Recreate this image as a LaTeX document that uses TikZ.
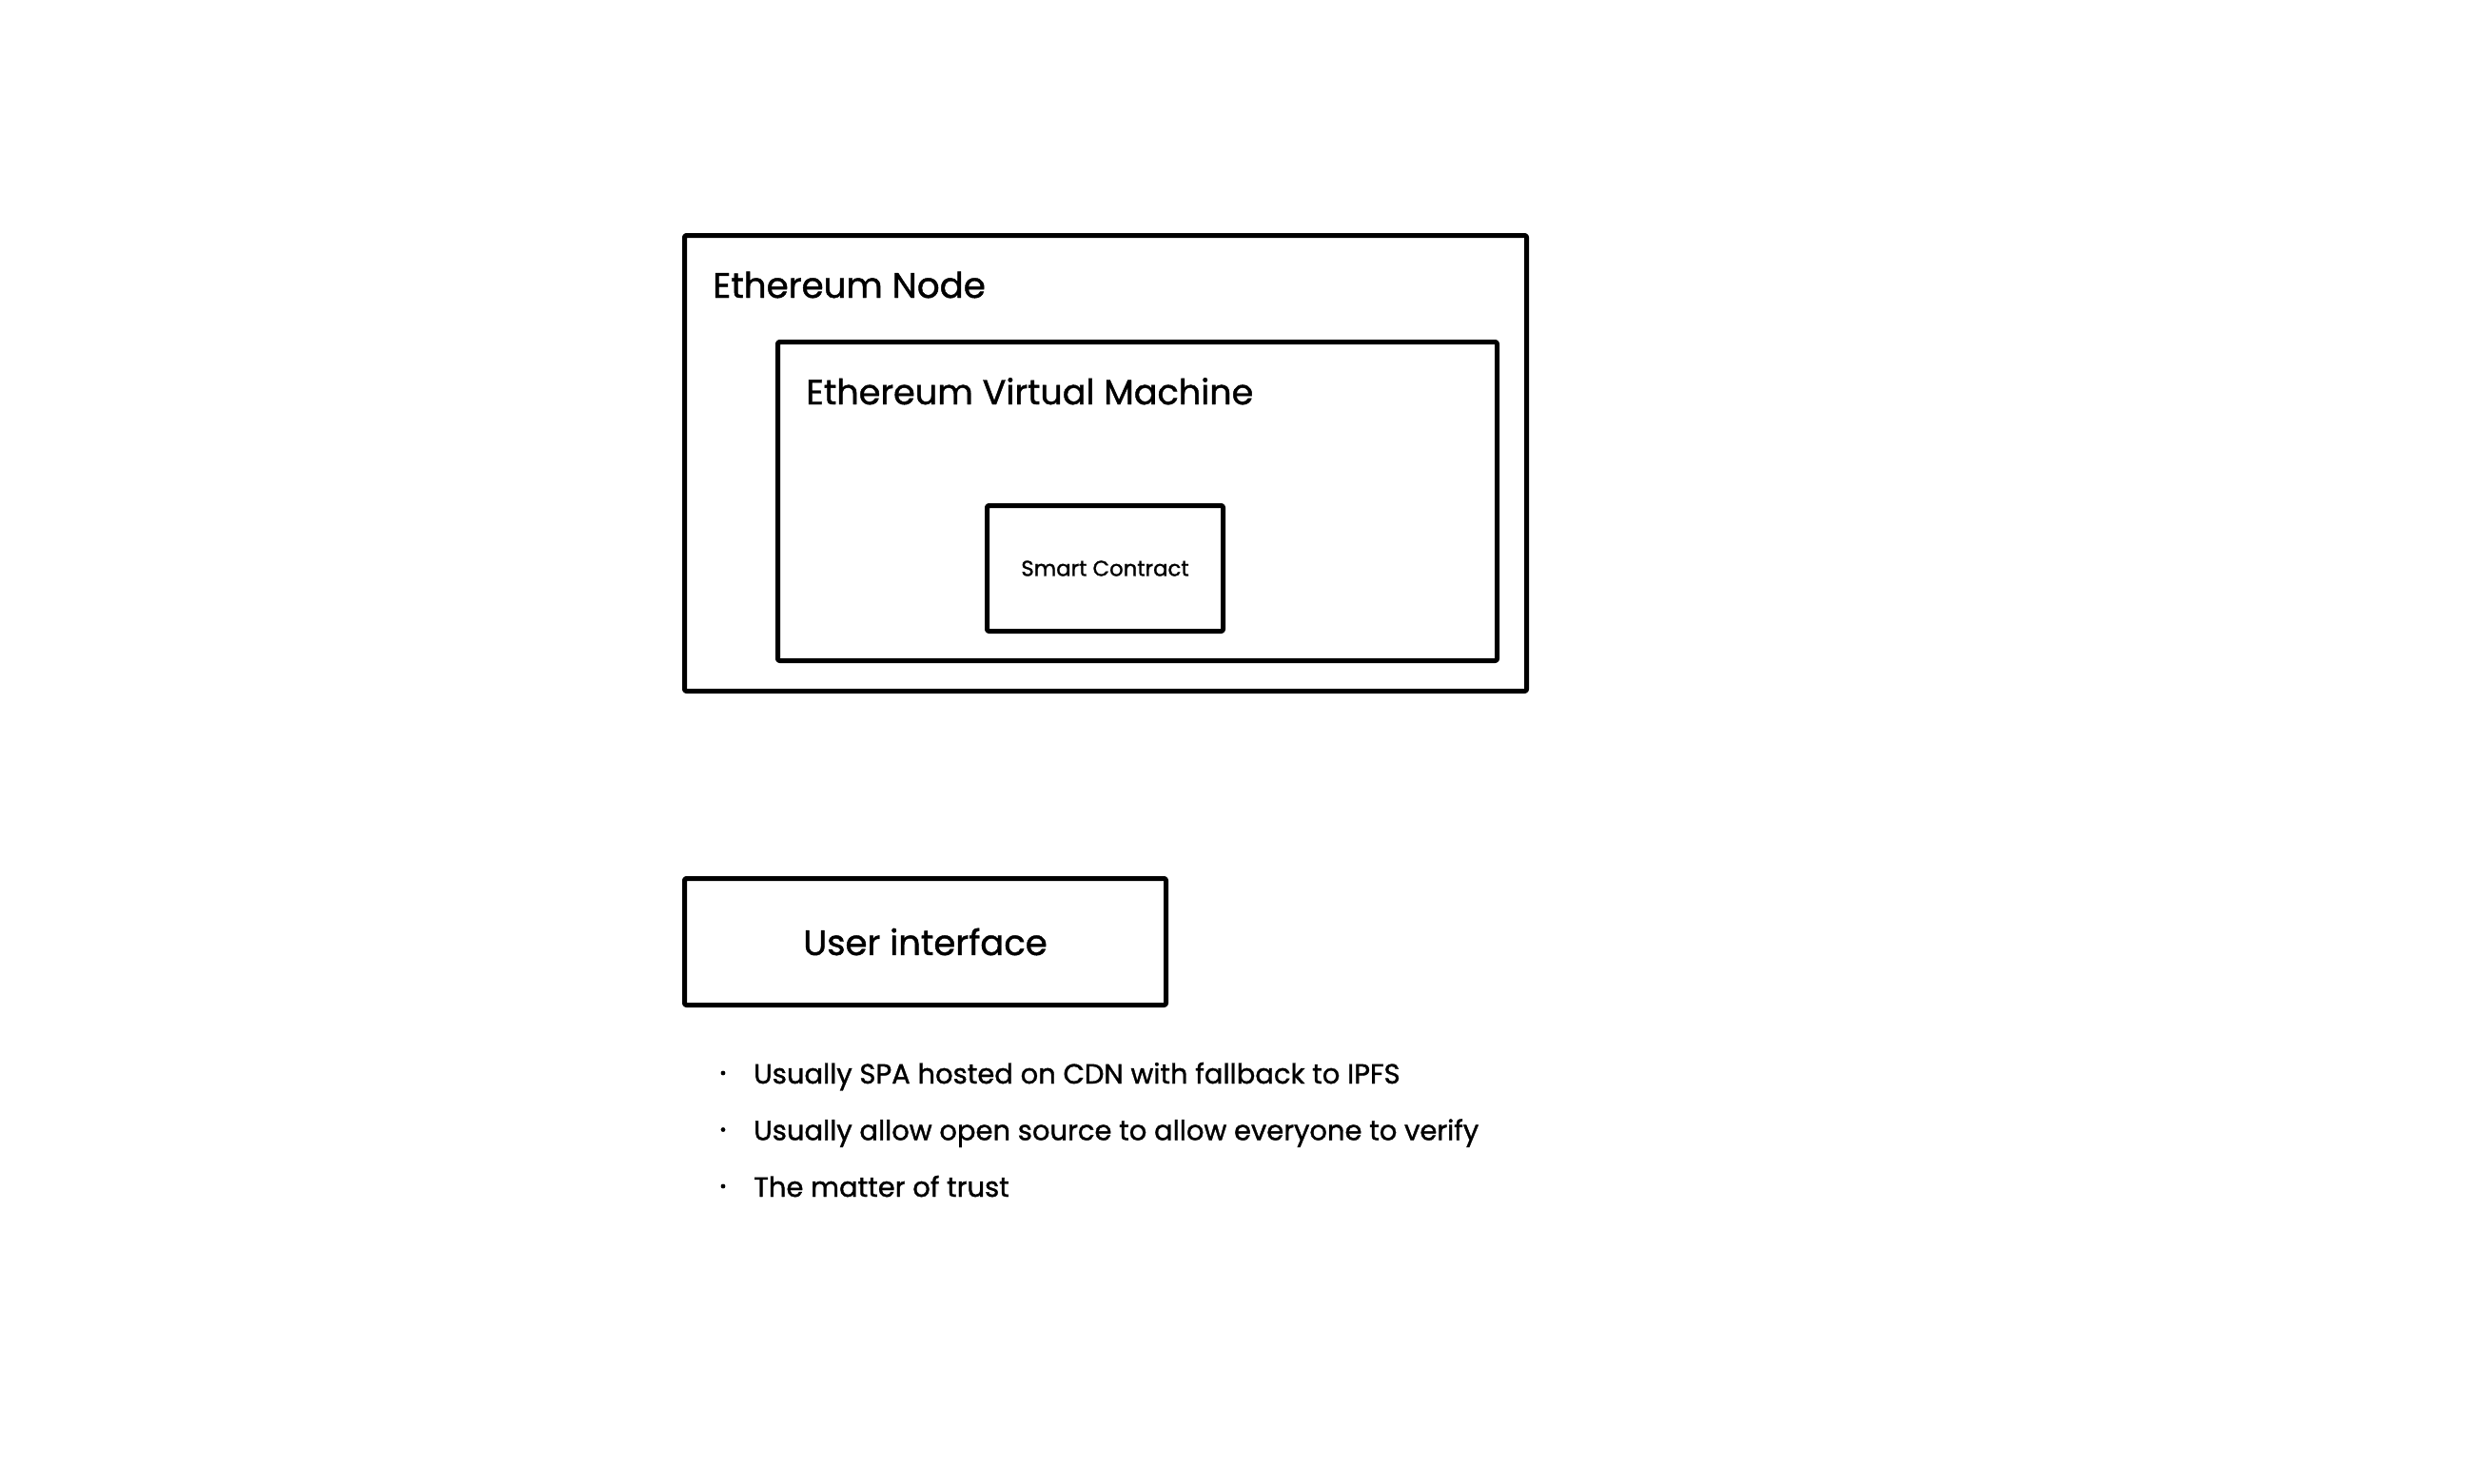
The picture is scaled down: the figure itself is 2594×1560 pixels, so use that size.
\documentclass[tikz,border=0pt]{standalone}
\usepackage{fontspec}
\setmainfont{Poppins}[FakeBold=1.2]
\usetikzlibrary{positioning}

\begin{document}
\begin{tikzpicture}[x=1pt,y=-1pt,
box/.style={draw,line width=5pt,rounded corners=2pt,line join=round,inner sep=0pt,anchor=north west},% sketchy frames
title/.style={anchor=base west,inner sep=0pt,font=\fontsize{37.2}{44}\selectfont},
item/.style={anchor=base west,inner sep=0pt,font=\fontsize{29}{34}\selectfont}
]
\useasboundingbox (0,0) rectangle (2594,1560);
% the node and what runs inside it
\node[box,minimum width=885pt,minimum height=479pt] (ethnode) at (717,245) {};
\node[title] (ethnodetitle) at (749,313) {Ethereum Node};
\node[box,minimum width=756pt,minimum height=335pt] (evm) at (815,357) {};
\node[title,font=\fontsize{36.6}{44}\selectfont] (evmtitle) at (847,425) {Ethereum Virtual Machine};
\node[box,minimum width=248pt,minimum height=132pt,font=\fontsize{22.8}{28}\selectfont] (contract) at (1035,529) {Smart Contract};
% the front end
\node[box,minimum width=506pt,minimum height=133pt,font=\fontsize{37}{42}\selectfont] (ui) at (717,921) {User interface};
\foreach \txt [count=\i] in {Usually SPA hosted on CDN with fallback to IPFS,
Usually allow open source to allow everyone to verify,
The matter of trust}
{
\node[item] (note\i) at (792,{1139+59.5*(\i-1)}) {\txt};
\fill ([xshift=-32pt,yshift=11pt]note\i.base west) circle[radius=2.4pt];
}
\end{tikzpicture}
\end{document}
